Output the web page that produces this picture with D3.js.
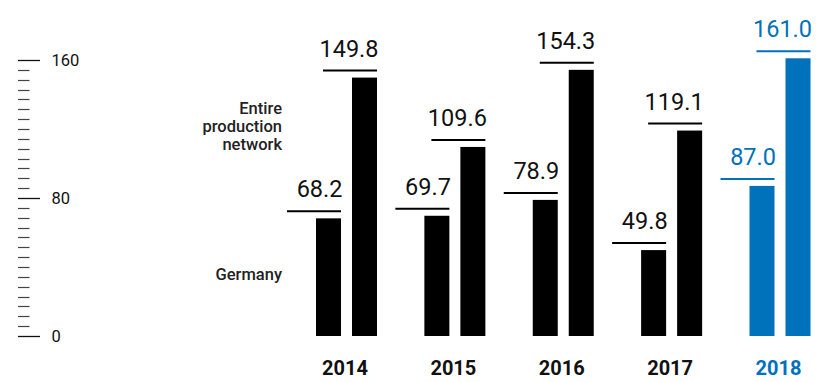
<!DOCTYPE html>
<html>
<head>
<meta charset="utf-8">
<script src="https://cdn.jsdelivr.net/npm/d3@7/dist/d3.min.js"></script>
<style>
  html, body { margin: 0; padding: 0; background: #fff; }
  svg { display: block; font-family: Roboto, "Liberation Sans", sans-serif; }
</style>
</head>
<body>
<svg id="chart" width="816" height="382"></svg>
<script>
// Production volumes per year: Germany vs. the entire production network
const years = ["2014", "2015", "2016", "2017", "2018"];
const seriesNames = ["Germany", "Entire production network"];
const germany = [68.2, 69.7, 78.9, 49.8, 87.0];
const entireNetwork = [149.8, 109.6, 154.3, 119.1, 161.0];
const axisTicks = [0, 80, 160];
const highlightYear = "2018";

const black = "#000000";
const blue = "#0071BB";

const svg = d3.select("#chart");

const y = d3.scaleLinear().domain([0, 160]).range([336, 60]);
const xGroup = d3.scalePoint().domain(years).range([346.5, 780]);
const xInner = d3.scaleBand().domain(seriesNames).range([-30.5, 30.5]).paddingInner(0.3056);

// Ruler-style value axis: long major ticks with labels, short minor ticks in between
const minorPerMajor = 14;
const minorValues = d3.range(0, 160 + 1e-9, 80 / minorPerMajor)
  .filter(v => !axisTicks.some(t => Math.abs(t - v) < 1e-6));

const ruler = svg.append("g").attr("class", "ruler");
ruler.selectAll("line.minor")
  .data(minorValues)
  .join("line")
  .attr("class", "minor")
  .attr("x1", 18).attr("x2", 29.5)
  .attr("y1", d => Math.round(y(d)) + 0.5)
  .attr("y2", d => Math.round(y(d)) + 0.5)
  .attr("stroke", "#444").attr("stroke-width", 1.2);

ruler.selectAll("line.major")
  .data(axisTicks)
  .join("line")
  .attr("class", "major")
  .attr("x1", 18).attr("x2", 40)
  .attr("y1", d => Math.round(y(d)) + 0.5)
  .attr("y2", d => Math.round(y(d)) + 0.5)
  .attr("stroke", "#111").attr("stroke-width", 1.3);

ruler.selectAll("text")
  .data(axisTicks)
  .join("text")
  .attr("x", 51.5)
  .attr("y", d => y(d))
  .attr("dy", "0.36em")
  .attr("font-size", 16.5)
  .attr("fill", "#111")
  .text(d => d);

// Bars, with a value label and a short rule above each bar
const rows = years.map((yr, i) => [
  { year: yr, series: seriesNames[0], value: germany[i] },
  { year: yr, series: seriesNames[1], value: entireNetwork[i] }
]).flat();

const colorOf = d => d.year === highlightYear ? blue : black;
const barLeft = d => xGroup(d.year) + xInner(d.series);
const barRight = d => barLeft(d) + xInner.bandwidth();

const marks = svg.append("g").attr("class", "bars");
marks.selectAll("rect")
  .data(rows)
  .join("rect")
  .attr("x", barLeft)
  .attr("y", d => y(d.value))
  .attr("width", xInner.bandwidth())
  .attr("height", d => y(0) - y(d.value))
  .attr("fill", colorOf);

marks.selectAll("line.rule")
  .data(rows)
  .join("line")
  .attr("class", "rule")
  .attr("x1", d => barRight(d) - 54)
  .attr("x2", barRight)
  .attr("y1", d => y(d.value) - 7)
  .attr("y2", d => y(d.value) - 7)
  .attr("stroke", colorOf)
  .attr("stroke-width", 2);

marks.selectAll("text.value")
  .data(rows)
  .join("text")
  .attr("class", "value")
  .attr("x", d => barRight(d) + 1.5)
  .attr("y", d => y(d.value) - 21)
  .attr("text-anchor", "end")
  .attr("font-size", 23.5)
  .attr("fill", d => d.year === highlightYear ? blue : "#111")
  .text(d => d.value.toFixed(1));

// Year labels along the bottom
svg.append("g").selectAll("text")
  .data(years)
  .join("text")
  .attr("x", d => xGroup(d) - 1.5)
  .attr("y", 375)
  .attr("text-anchor", "middle")
  .attr("font-size", 20)
  .attr("font-weight", 700)
  .attr("fill", d => d === highlightYear ? blue : "#111")
  .text(d => d);

// Series names placed beside the first pair of bars
const legend = svg.append("g")
  .attr("font-size", 16.5)
  .attr("font-weight", 500)
  .attr("fill", "#222")
  .attr("text-anchor", "end");

const entireLines = ["Entire", "production", "network"];
legend.selectAll("text.entire")
  .data(entireLines)
  .join("text")
  .attr("class", "entire")
  .attr("x", 282)
  .attr("y", (d, i) => 114 + i * 18)
  .text(d => d);

legend.append("text")
  .attr("x", 282)
  .attr("y", 280)
  .text(seriesNames[0]);
</script>
</body>
</html>
